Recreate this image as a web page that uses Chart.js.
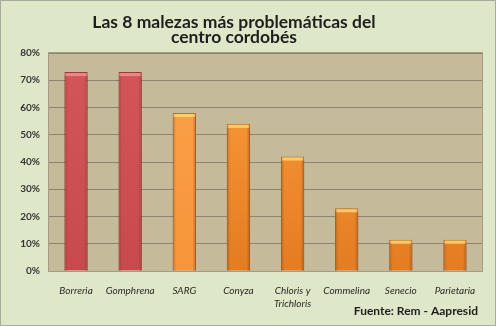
<!DOCTYPE html>
<html>
<head>
<meta charset="utf-8">
<script src="https://cdn.jsdelivr.net/npm/chart.js@4/dist/chart.umd.min.js"></script>
<style>
  html, body { margin: 0; padding: 0; background: #dfe7c9; }
  #wrap { position: relative; width: 496px; height: 326px; box-sizing: border-box; border: 1px solid #a8ab9c; }
  canvas { position: absolute; left: -1px; top: -1px; }
</style>
</head>
<body>
<div id="wrap">
  <canvas id="malezasChart" width="496" height="326"></canvas>
</div>
<script>
// porcentaje de lotes con problemas por maleza
const malezas = ['Borreria', 'Gomphrena', 'SARG', 'Conyza', ['Chloris y', 'Trichloris'], 'Commelina', 'Senecio', 'Parietaria'];
const porcentajes = [73, 73, 58, 54, 42, 23, 11.5, 11.5];
const yTicks = [0, 10, 20, 30, 40, 50, 60, 70, 80];

const titulo = ['Las 8 malezas más problemáticas del', 'centro cordobés'];
const fuente = 'Fuente: Rem - Aapresid';

// las dos primeras van en rojo, el resto en naranja
const ROJAS = 2;

function barFill(ctx, i) {
    const chart = ctx.chart;
    const area = chart.chartArea;
    if (!area) return '#d05257';
    const g = chart.ctx.createLinearGradient(0, area.top, 0, area.bottom);
    if (i < ROJAS) {
        g.addColorStop(0, '#d4565a');
        g.addColorStop(1, '#c94a4e');
    } else if (i === ROJAS) {
        g.addColorStop(0, '#fba24a');
        g.addColorStop(1, '#f7953a');
    } else {
        g.addColorStop(0, '#fb9d3c');
        g.addColorStop(1, '#e47c22');
    }
    return g;
}

// brillo en la tapa de cada barra
const capPlugin = {
    id: 'caps',
    afterDatasetsDraw(chart) {
        const c = chart.ctx;
        chart.getDatasetMeta(0).data.forEach((bar, i) => {
            const { x, y, width } = bar.getProps(['x', 'y', 'width'], true);
            const left = x - width / 2;
            c.save();
            c.fillStyle = i < ROJAS ? '#ec8d8c' : '#ffd271';
            c.globalAlpha = 0.9;
            c.fillRect(left + 1.5, y + 1, width - 3, 3);
            // sombra lateral
            const sg = c.createLinearGradient(left, 0, left + width, 0);
            sg.addColorStop(0, 'rgba(120,40,20,0.25)');
            sg.addColorStop(0.15, 'rgba(0,0,0,0)');
            sg.addColorStop(0.85, 'rgba(0,0,0,0)');
            sg.addColorStop(1, 'rgba(120,40,20,0.3)');
            c.globalAlpha = 1;
            c.fillStyle = sg;
            c.fillRect(left, y + 4, width, chart.chartArea.bottom - y - 4);
            c.restore();
        });
    }
};

// fondo del área de trazado, título y fuente
const decoPlugin = {
    id: 'deco',
    beforeDraw(chart) {
        const { ctx, chartArea: a } = chart;
        ctx.save();
        ctx.fillStyle = '#c5bb9b';
        ctx.fillRect(a.left, a.top, a.right - a.left, a.bottom - a.top);
        ctx.strokeStyle = '#a49c84';
        ctx.lineWidth = 1;
        ctx.strokeRect(a.left - 0.5, a.top - 0.5, a.right - a.left + 1, a.bottom - a.top + 1);
        ctx.restore();
    },
    afterDraw(chart) {
        const ctx = chart.ctx;
        ctx.save();
        ctx.fillStyle = '#1e1e1e';
        ctx.textAlign = 'center';
        ctx.font = 'bold 17.5px Lato';
        ctx.fillText(titulo[0], 234, 28);
        ctx.fillText(titulo[1], 234, 43);
        ctx.textAlign = 'right';
        ctx.font = 'bold 12px Lato';
        ctx.fillText(fuente, 478, 315);
        ctx.restore();
    }
};

new Chart(document.getElementById('malezasChart'), {
    type: 'bar',
    data: {
        labels: malezas,
        datasets: [{
            data: porcentajes,
            backgroundColor: ctx => barFill(ctx, ctx.dataIndex),
            borderColor: ctx => ctx.dataIndex < ROJAS ? '#9c3a3a' : '#b86a22',
            borderWidth: 1,
            borderSkipped: 'bottom',
            categoryPercentage: 1,
            barPercentage: 0.43
        }]
    },
    options: {
        responsive: false,
        animation: false,
        layout: { padding: { left: 0, top: 53, right: 14, bottom: 0 } },
        plugins: {
            legend: { display: false },
            tooltip: { enabled: false }
        },
        scales: {
            x: {
                afterFit(scale) { scale.height = 55; },
                grid: { display: false },
                border: { color: '#a49c84' },
                ticks: {
                    color: '#2a2a2a',
                    font: { family: 'Lato', size: 10, style: 'italic', lineHeight: 1.3 },
                    padding: 5,
                    maxRotation: 0,
                    autoSkip: false
                }
            },
            y: {
                min: 0,
                max: 80,
                afterFit(scale) { scale.width = 49; },
                afterBuildTicks(scale) { scale.ticks = yTicks.map(v => ({ value: v })); },
                grid: { color: '#8c8670', lineWidth: 1, drawTicks: false },
                border: { display: false },
                ticks: {
                    color: '#333333',
                    font: { family: 'Lato', size: 10, weight: 'bold' },
                    padding: 9,
                    callback: v => v + '%'
                }
            }
        }
    },
    plugins: [decoPlugin, capPlugin]
});
</script>
</body>
</html>
